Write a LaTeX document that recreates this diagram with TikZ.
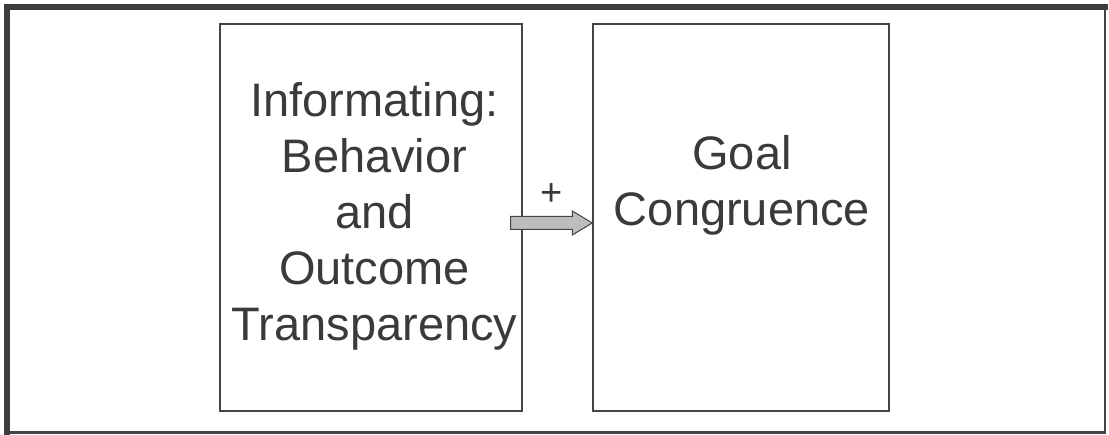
\documentclass[tikz,border=0pt]{standalone}
\usepackage{fontspec}
\setmainfont{Liberation Sans}
\usetikzlibrary{calc}
\definecolor{ink}{HTML}{3A3A3A}
\definecolor{edge}{HTML}{444444}
\definecolor{shaft}{HTML}{BDBDBD}
\begin{document}
\begin{tikzpicture}[x=1pt,y=-1pt,
  panel/.style={draw=edge, line width=1.4pt, minimum width=302pt, minimum height=387pt, inner sep=0pt},
  label/.style={text=ink, font=\fontsize{47}{56}\selectfont, align=center, inner sep=0pt, anchor=base},
  fatarrow/.style={draw=edge, line width=1pt, fill=shaft}]
  % page area and outer frame
  \useasboundingbox (0,0) rectangle (1109,435);
  \fill[white] (0,0) rectangle (1109,435);
  \draw[edge, line width=2.2pt] (6.5,7) rectangle (1105,432.5);
  \draw[edge!90!black, line width=6pt] (6.5,435) -- (6.5,7) -- (1108,7);

  % the two boxes
  \node[panel] (L) at (371,217.5) {};
  \node[panel, minimum width=296pt] (R) at (741,217.5) {};

  % box texts (base anchor sits on the last line)
  \node[label] (Ltext) at (374.5,341) {Informating:\\Behavior\\and\\Outcome\\Transparency};
  \node[label] (Rtext) at (742,226) {Goal\\Congruence};

  % block arrow from left box into right box
  \coordinate (tail) at ($(L.east)+(-12,5.5)$);
  \coordinate (tip) at ($(R.west)+(0,5.5)$);
  \draw[fatarrow] ($(tail)+(0,-6.5)$) -- ($(tip)+(-20,-6.5)$) -- ($(tip)+(-20,-12)$)
    -- (tip) -- ($(tip)+(-20,12)$) -- ($(tip)+(-20,6.5)$) -- ($(tail)+(0,6.5)$) -- cycle;
  \node[text=ink, font=\fontsize{38}{38}\selectfont, inner sep=0pt] (plus) at (552,195) {+};
\end{tikzpicture}
\end{document}
